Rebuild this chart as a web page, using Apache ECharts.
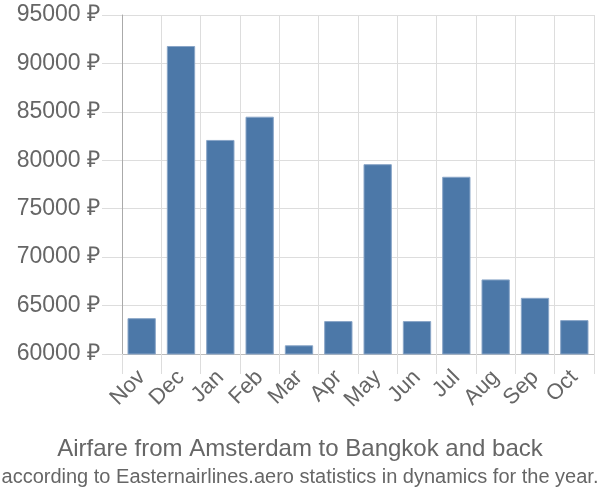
<!DOCTYPE html>
<html><head><meta charset="utf-8">
<script src="https://cdn.jsdelivr.net/npm/echarts@6/dist/echarts.min.js"></script>
<style>html,body{margin:0;padding:0;background:#fff}#c{width:600px;height:500px}</style>
</head><body><div id="c"></div>
<script>
const categories = ["Nov","Dec","Jan","Feb","Mar","Apr","May","Jun","Jul","Aug","Sep","Oct"];
const prices = [63700, 91800, 82100, 84500, 60900, 63400, 79600, 63400, 78300, 67700, 65800, 63500];
const titleText = "Airfare from Amsterdam to Bangkok and back";
const subtitleText = "according to Easternairlines.aero statistics in dynamics for the year.";

const chart = echarts.init(document.getElementById('c'), null, {renderer:'canvas'});
chart.setOption({
  animation:false,
  textStyle:{fontFamily:'Liberation Sans, Arial, sans-serif'},
  title:{
    text:titleText, subtext:subtitleText, left:'center', top:432, itemGap:6,
    textStyle:{fontSize:24, fontWeight:'normal', color:'#666', fontFamily:'Liberation Sans'},
    subtextStyle:{fontSize:20, color:'#666', fontFamily:'Liberation Sans'}
  },
  grid:{left:122, right:6, top:15, bottom:146, containLabel:false},
  xAxis:{
    type:'category', data:categories, boundaryGap:true,
    axisLine:{lineStyle:{color:'#bbb', width:1}},
    axisTick:{show:true, length:20, alignWithLabel:false, lineStyle:{color:'#ddd'}},
    splitLine:{show:true, lineStyle:{color:'#ddd'}},
    axisLabel:{rotate:45, fontSize:22, color:'#666', margin:20, interval:0, fontFamily:'Liberation Sans'}
  },
  yAxis:{
    type:'value', min:60000, max:95000, interval:5000,
    axisLine:{show:true, lineStyle:{color:'#aaa'}},
    axisTick:{show:true, length:20, lineStyle:{color:'#ddd'}},
    splitLine:{show:true, lineStyle:{color:'#ddd'}},
    axisLabel:{formatter:function(v){return v + ' ₽';}, fontSize:23, color:'#666', margin:22, fontFamily:'Liberation Sans'}
  },
  series:[{
    type:'bar', data:prices, barWidth:'72%',
    itemStyle:{color:'#4c78a8', borderColor:'#8aa6c8', borderWidth:1}
  }]
});
</script></body></html>
